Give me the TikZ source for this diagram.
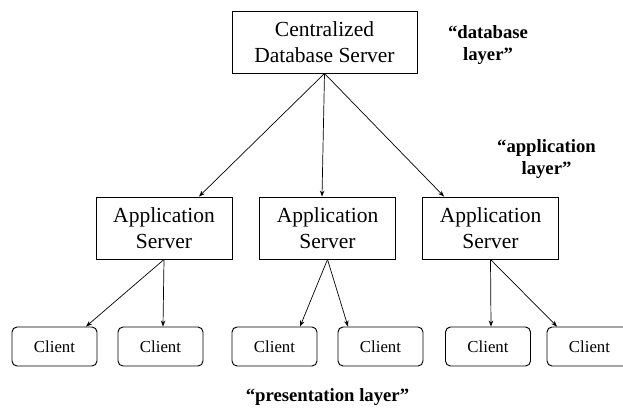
\documentclass[tikz,border=0pt]{standalone}
\usepackage{fontspec}
\setmainfont{Liberation Serif}
\usetikzlibrary{arrows.meta}
\begin{document}
\begin{tikzpicture}[x=1pt,y=-1pt,
  server/.style={draw,line width=0.95pt,rectangle,inner sep=0pt,align=center,
    minimum height=62pt,font=\fontsize{21.5}{26.5}\selectfont},
  client/.style={draw,line width=0.95pt,rectangle,rounded corners=5pt,inner sep=0pt,
    minimum width=85pt,minimum height=39pt,font=\fontsize{16.8}{20}\selectfont},
  layer/.style={inner sep=0pt,align=center,font=\fontsize{18.7}{22}\selectfont\bfseries},
  arr/.style={line width=0.7pt,-{Stealth[length=6pt,width=4.5pt]}}]
\useasboundingbox (0,0) rectangle (623,408);

% database tier
\node[server,minimum width=185pt] (db) at (324.5,42) {Centralized\\Database Server};

% application tier
\node[server,minimum width=136pt] (app1) at (164,228) {Application\\Server};
\node[server,minimum width=136pt] (app2) at (327.5,228) {Application\\Server};
\node[server,minimum width=136pt] (app3) at (490.5,228) {Application\\Server};

% presentation tier
\node[client] (c1) at (54.5,346.5) {Client};
\node[client] (c2) at (160.5,346.5) {Client};
\node[client] (c3) at (274.5,346.5) {Client};
\node[client] (c4) at (380.5,346.5) {Client};
\node[client] (c5) at (488,346.5) {Client};
\node[client] (c6) at (589.5,346.5) {Client};

% layer captions
\node[layer,anchor=north] (dblayer) at (488,25) {``database\\layer''};
\node[layer,anchor=north] (applayer) at (546.5,139) {``application\\layer''};
\node[layer,anchor=base] (prelayer) at (327.5,401) {``presentation layer''};

% links
\draw[arr] (db.south) -- ([xshift=35pt]app1.north);
\draw[arr] (db.south) -- ([xshift=-5.5pt]app2.north);
\draw[arr] (db.south) -- ([xshift=-46.5pt]app3.north);

\draw[arr] (app1.south) -- ([xshift=31.5pt]c1.north);
\draw[arr] (app1.south) -- ([xshift=2.5pt]c2.north);
\draw[arr] (app2.south) -- ([xshift=25.5pt]c3.north);
\draw[arr] (app2.south) -- ([xshift=-32.5pt]c4.north);
\draw[arr] (app3.south) -- ([xshift=3pt]c5.north);
\draw[arr] (app3.south) -- ([xshift=-32.5pt]c6.north);
\end{tikzpicture}
\end{document}
